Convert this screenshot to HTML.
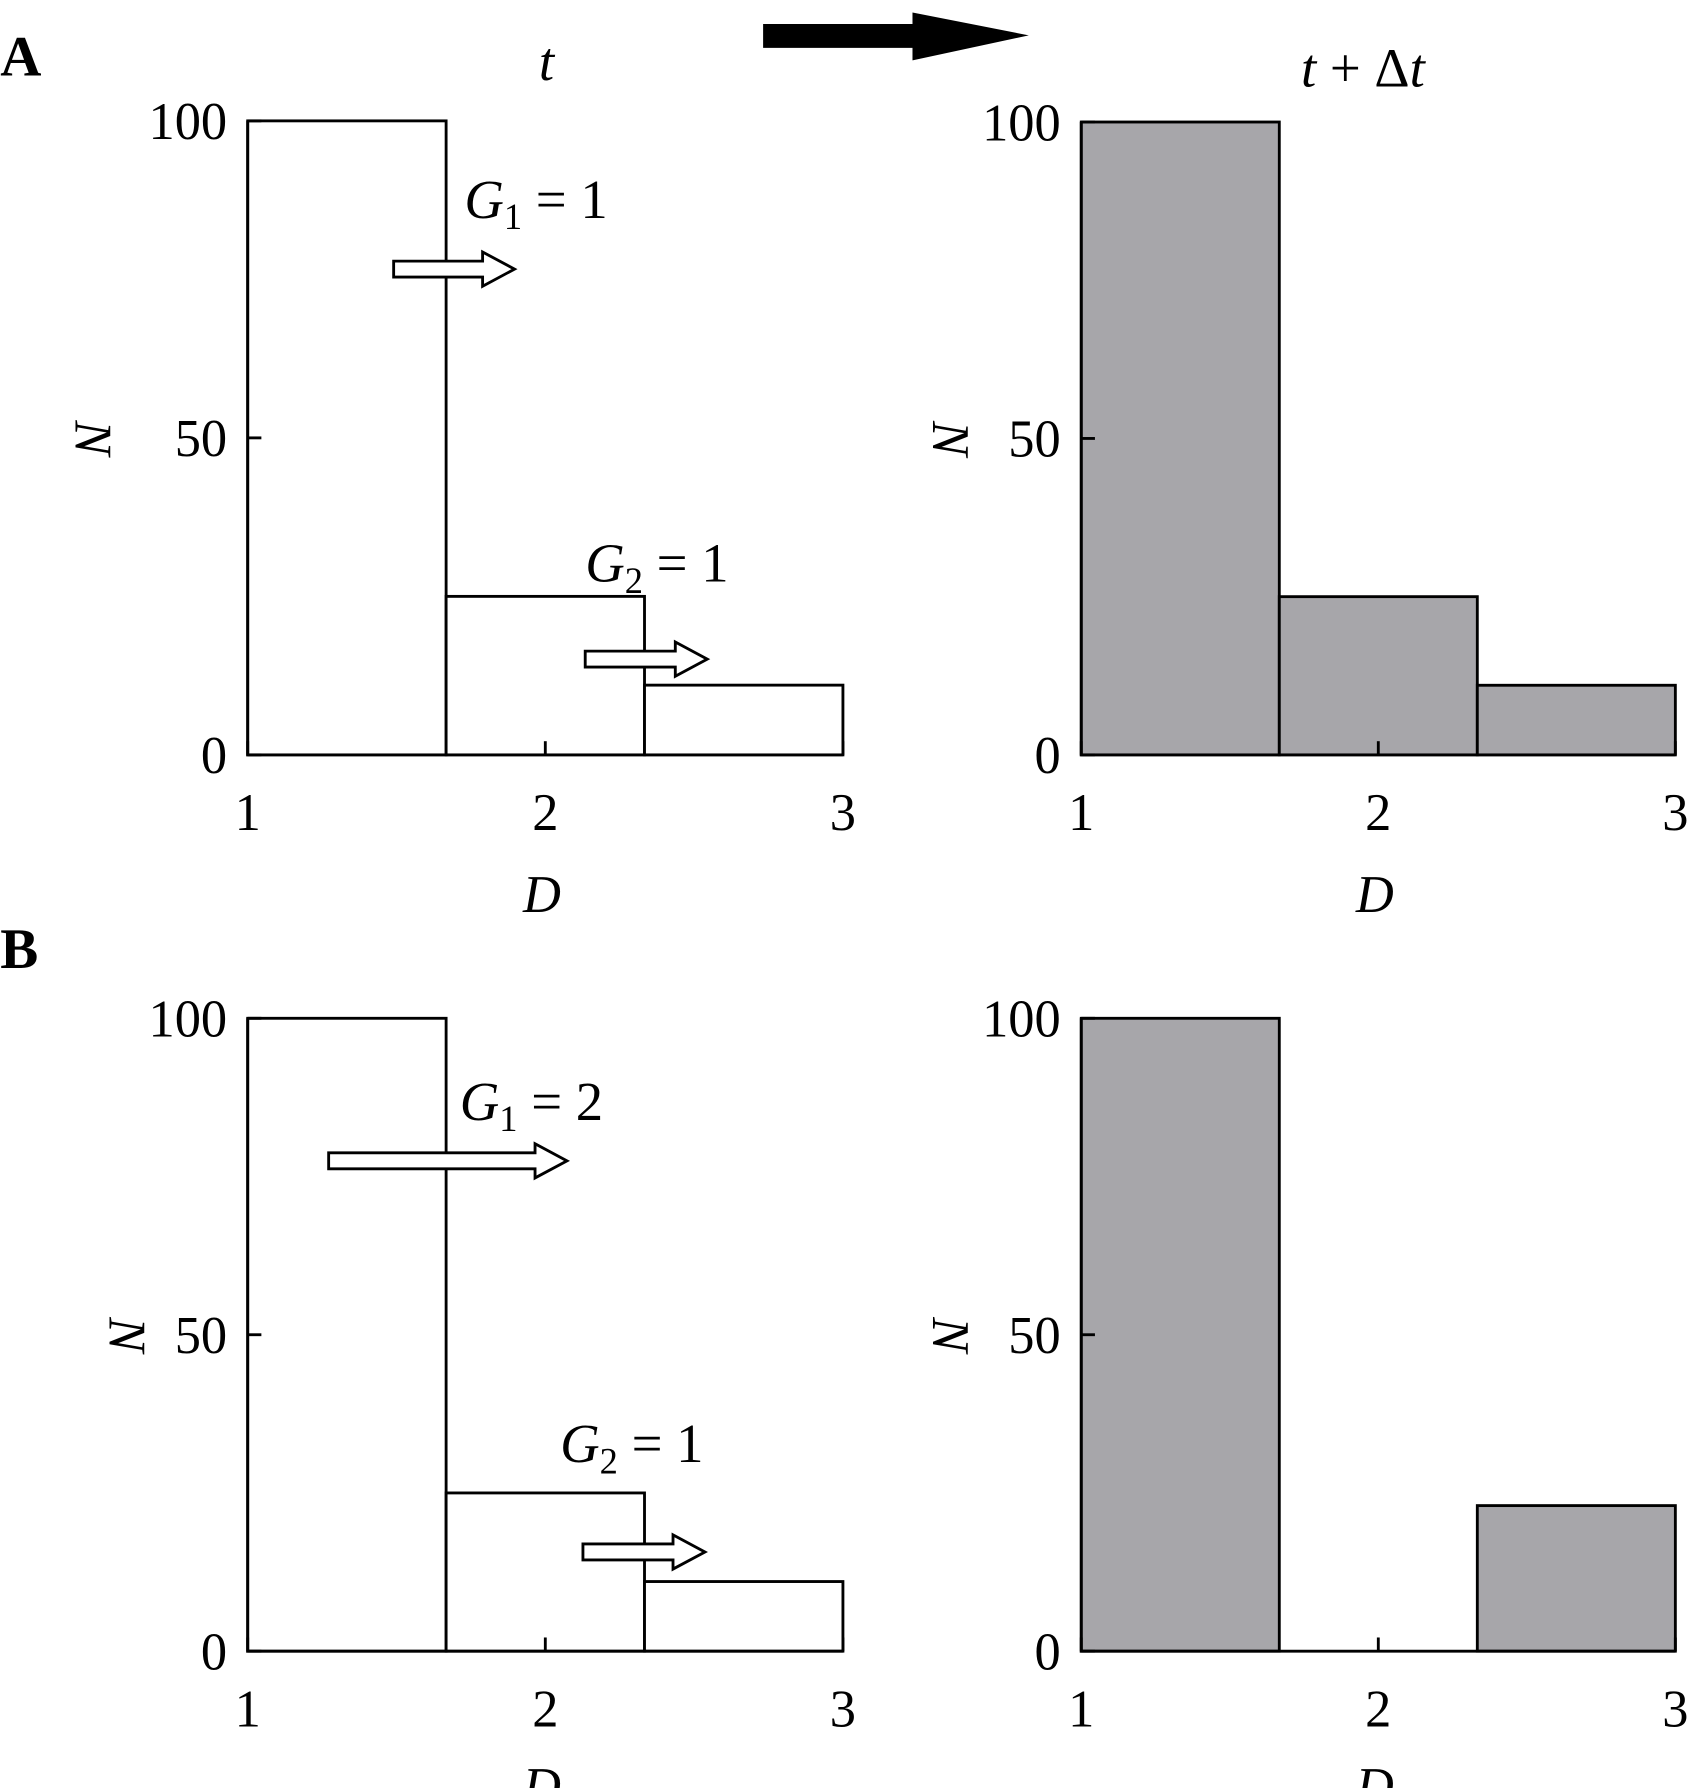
<!DOCTYPE html>
<html><head><meta charset="utf-8"><style>
html,body{margin:0;padding:0;background:#fff;}
svg{display:block;}
text{font-family:"Liberation Serif",serif;fill:#000;}
</style></head><body>
<svg id="fig" width="1687" height="1788" viewBox="0 0 1479 1568" xmlns="http://www.w3.org/2000/svg">
<g id="root"></g>
</svg>
<script>
// Data
const binEdges = [1, 1.6667, 2.3333, 3];
const countsAt = [100, 25, 11];
const countsAfterA = [100, 25, 11];
const countsAfterB = [100, 0, 23];
const xTicks = [1, 2, 3];
const yTicks = [0, 50, 100];

const NS = "http://www.w3.org/2000/svg";
const root = document.getElementById('root');
function el(tag, attrs, parent) {
  const e = document.createElementNS(NS, tag);
  for (const k in attrs) e.setAttribute(k, attrs[k]);
  (parent || root).appendChild(e);
  return e;
}
function txt(x, y, s, size, parent, extra) {
  const t = el('text', Object.assign({x: x, y: y, 'font-size': size}, extra || {}), parent);
  t.textContent = s;
  return t;
}

function panel(name, x0, x1, y0, y100, counts, fill, nLabelX, yLabelX, dY) {
  const g = el('g', {});
  
  
  const xs = v => x0 + (v - 1) / 2 * (x1 - x0);
  const ys = v => y0 - v / 100 * (y0 - y100);
  for (let i = 0; i < counts.length; i++) {
    if (counts[i] <= 0) continue;
    const r = el('rect', {x: xs(binEdges[i]), y: ys(counts[i]), width: xs(binEdges[i+1]) - xs(binEdges[i]), height: ys(0) - ys(counts[i]), fill: fill, stroke: '#000', 'stroke-width': 2.5}, g);
    
    
  }
  const ax = el('path', {d: `M${x0} ${y100} L${x0} ${y0} L${x1} ${y0}`, fill: 'none', stroke: '#000', 'stroke-width': 2.5}, g);
  
  
  yTicks.forEach(v => {
    el('line', {x1: x0, x2: x0 + 12, y1: ys(v), y2: ys(v), stroke: '#000', 'stroke-width': 2.5}, g);
    const t = txt(yLabelX, ys(v) + 16, String(v), 46, g, {'text-anchor': 'end'});
    
    
  });
  xTicks.forEach(v => {
    el('line', {x1: xs(v), x2: xs(v), y1: y0, y2: y0 - 12, stroke: '#000', 'stroke-width': 2.5}, g);
    const t = txt(xs(v), y0 + 66, String(v), 46, g, {'text-anchor': 'middle'});
    
    
  });
  const xt = txt((x0 + x1) / 2 - 3, y0 + dY, 'D', 46, g, {'text-anchor': 'middle', 'font-style': 'italic'});
  
  
  const yt = txt(0, 0, 'N', 46, g, {'text-anchor': 'middle', 'font-style': 'italic', transform: `translate(${nLabelX},${ys(50)}) rotate(90)`});
  
  
}

panel('panel-a-t', 217, 739, 662, 106, countsAt, '#fff', 66, 199, 138);
panel('panel-a-t-dt', 948, 1469, 662, 107, countsAfterA, '#a7a6aa', 818, 930, 138);
panel('panel-b-t', 217, 739, 1448, 893, countsAt, '#fff', 96, 199, 134);
panel('panel-b-t-dt', 948, 1469, 1448, 893, countsAfterB, '#a7a6aa', 818, 930, 134);

function hollowArrow(name, xs, xe, y) {
  const hb = xe - 28;
  const p = el('path', {d: `M${xs} ${y-7} L${hb} ${y-7} L${hb} ${y-15} L${xe} ${y} L${hb} ${y+15} L${hb} ${y+7} L${xs} ${y+7} Z`, fill: '#fff', stroke: '#000', 'stroke-width': 2.5});
  
  
}
hollowArrow('arrow-a-g1', 345, 451, 236);
hollowArrow('arrow-a-g2', 513, 620, 578);
hollowArrow('arrow-b-g1', 288, 497, 1018);
hollowArrow('arrow-b-g2', 511, 618, 1361);

const big = el('path', {d: 'M669 21 L800 21 L800 11 L902 31 L800 53 L800 42 L669 42 Z', fill: '#000'});



function label(name, x, y, sub, val) {
  const t = el('text', {x: x, y: y, 'font-size': 48});
  
  
  const a = el('tspan', {'font-style': 'italic'}, t); a.textContent = 'G';
  const b = el('tspan', {'font-size': 32, dy: 10}, t); b.textContent = sub;
  const c = el('tspan', {dy: -10}, t); c.textContent = ' = ' + val;
}
label('g1-label-a', 407, 191, '1', '1');
label('g2-label-a', 513, 510, '2', '1');
label('g1-label-b', 403, 982, '1', '2');
label('g2-label-b', 491, 1282, '2', '1');

let t;
t = txt(0, 66, 'A', 50, null, {'font-weight': 'bold'});
 
t = txt(0, 849, 'B', 50, null, {'font-weight': 'bold'});
 
t = txt(479, 70, 't', 48, null, {'font-style': 'italic', 'text-anchor': 'middle'});
 
t = el('text', {x: 1195, y: 76, 'font-size': 48, 'text-anchor': 'middle'});
 
let s1 = el('tspan', {'font-style': 'italic'}, t); s1.textContent = 't';
let s2 = el('tspan', {}, t); s2.textContent = ' + Δ';
let s3 = el('tspan', {'font-style': 'italic'}, t); s3.textContent = 't';
</script>
</body></html>
